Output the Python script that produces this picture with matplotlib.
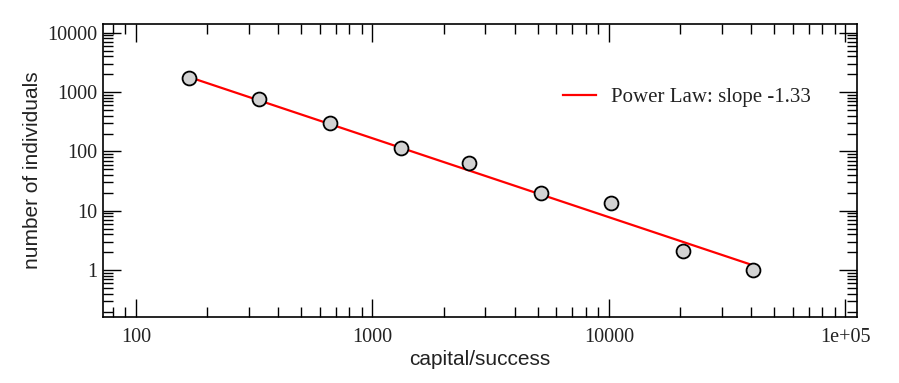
import numpy as np
import matplotlib
matplotlib.use("Agg")
import matplotlib.pyplot as plt
from matplotlib.ticker import LogLocator, FixedLocator, FixedFormatter, NullFormatter

# data
capital = [167, 331, 661, 1320, 2560, 5150, 10200, 20550, 40600]
individuals = [1750, 750, 306, 116, 63, 20, 13.4, 2.1, 1.0]
fit_slope = -1.33
fit_x = [167, 40600]
fit_y0 = 1800
legend_label = "Power Law: slope -1.33"
xticks = [100, 1000, 10000, 100000]
xticklabels = ["100", "1000", "10000", "1e+05"]
yticks = [1, 10, 100, 1000, 10000]
yticklabels = ["1", "10", "100", "1000", "10000"]

W, H = 899, 383
fig = plt.figure(figsize=(W/100, H/100), dpi=100)
L, R, T, B = 103, 857, 24, 317
ax = fig.add_axes([L/W, 1 - B/H, (R-L)/W, (B-T)/H])

fx = np.array(fit_x, dtype=float)
fy = fit_y0 * (fx / fx[0]) ** fit_slope
ax.plot(fx, fy, color="#ff0000", lw=1.6, label=legend_label, zorder=2)
ax.plot(capital, individuals, linestyle="none", marker="o", markersize=10,
        markerfacecolor="#d3d3d3", markeredgecolor="black", markeredgewidth=1.3, zorder=3)

ax.set_xscale("log")
ax.set_yscale("log")
ax.set_xlim(72.6, 1.12e5)
ax.set_ylim(0.162, 14000)

ax.xaxis.set_major_locator(FixedLocator(xticks))
ax.xaxis.set_major_formatter(FixedFormatter(xticklabels))
ax.yaxis.set_major_locator(FixedLocator(yticks))
ax.yaxis.set_major_formatter(FixedFormatter(yticklabels))
ax.xaxis.set_minor_locator(LogLocator(base=10, subs=np.arange(2, 10), numticks=20))
ax.yaxis.set_minor_locator(LogLocator(base=10, subs=np.arange(2, 10), numticks=20))
ax.xaxis.set_minor_formatter(NullFormatter())
ax.yaxis.set_minor_formatter(NullFormatter())

ax.tick_params(which="both", direction="in", top=True, right=True, color="black")
ax.tick_params(which="major", length=13, width=1.0, labelsize=14.5, labelcolor="#222222")
ax.tick_params(axis="y", which="major", pad=4)
ax.tick_params(axis="x", which="major", pad=8)
ax.tick_params(which="minor", length=7, width=1.0)
for lbl in ax.get_xticklabels() + ax.get_yticklabels():
    lbl.set_fontfamily("Liberation Serif")
for sp in ax.spines.values():
    sp.set_linewidth(1.2)

ax.set_xlabel("capital/success", fontfamily="Liberation Sans", fontsize=15, labelpad=2,
              color="#222222")
ax.set_ylabel("number of individuals", fontfamily="Liberation Sans", fontsize=15, labelpad=4,
              color="#222222")

leg = ax.legend(loc="center left",
                bbox_to_anchor=((563 - L)/(R - L), 1 - (97 - T)/(B - T)),
                frameon=False, borderpad=0, borderaxespad=0,
                prop={"family": "Liberation Serif", "size": 15}, handlelength=1.6,
                handletextpad=0.7)
for t in leg.get_texts():
    t.set_color("#222222")

fig.savefig("out.png", dpi=100)
